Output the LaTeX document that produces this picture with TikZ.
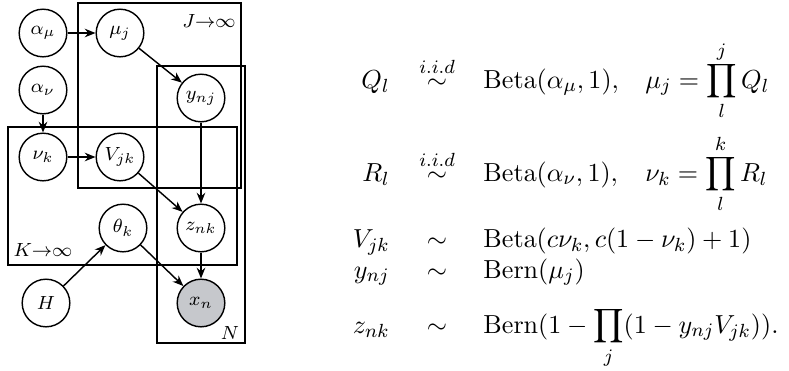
\documentclass[tikz,border=0pt]{standalone}
\usetikzlibrary{arrows.meta}
\definecolor{xgray}{RGB}{198,200,204}
\begin{document}
\begin{tikzpicture}[x=0.42pt,y=-0.42pt,
  var/.style={circle,draw,line width=0.6pt,minimum size=20pt,inner sep=0pt,font=\footnotesize},
  obs/.style={var,fill=xgray},
  plate/.style={draw,line width=0.6pt},
  edge/.style={-{Stealth[length=4.5pt,width=3.6pt]},line width=0.6pt},
  eq/.style={inner sep=0pt,font=\fontsize{11}{13.5}\selectfont},
  platelabel/.style={inner sep=0pt,font=\footnotesize}]
\useasboundingbox (0,0) rectangle (789,370);
% plates
\draw[plate] (78,3) rectangle (241,188);
\draw[plate] (157,66) rectangle (245,343);
\draw[plate] (8,127) rectangle (237,265);
\node[platelabel] (lJ) at (209,21) {$J{\rightarrow}\infty$};
\node[platelabel] (lK) at (43,250) {$K{\rightarrow}\infty$};
\node[platelabel] (lN) at (230,333) {$N$};
% nodes
\node[var] (am) at (43,33) {$\alpha_\mu$};
\node[var] (mu) at (120,33) {$\mu_j$};
\node[var] (an) at (43,90) {$\alpha_\nu$};
\node[var] (y) at (201,98) {$y_{nj}$};
\node[var] (nu) at (43,157) {$\nu_k$};
\node[var] (V) at (120,157) {$V_{jk}$};
\node[var] (th) at (123,228) {$\theta_k$};
\node[var] (z) at (201,228) {$z_{nk}$};
\node[var] (H) at (46,303) {$H$};
\node[obs] (x) at (201,303) {$x_n$};
% edges
\draw[edge] (am) -- (mu);
\draw[edge] (mu) -- (y);
\draw[edge] (an) -- (nu);
\draw[edge] (nu) -- (V);
\draw[edge] (V) -- (z);
\draw[edge] (y) -- (z);
\draw[edge] (z) -- (x);
\draw[edge] (th) -- (x);
\draw[edge] (H) -- (th);
% equations
\node[eq,anchor=base east] (e1l) at (390,88) {$Q_l$};
\node[eq,anchor=base] (e1c) at (437,88) {$\stackrel{i.i.d}{\sim}$};
\node[eq,anchor=base west] (e1r) at (483,88) {$\mathrm{Beta}(\alpha_\mu,1),$};
\node[eq,anchor=base west] (e1s) at (645,88) {$\displaystyle\mu_j=\prod_l^j Q_l$};
\node[eq,anchor=base east] (e2l) at (390,181) {$R_l$};
\node[eq,anchor=base] (e2c) at (437,181) {$\stackrel{i.i.d}{\sim}$};
\node[eq,anchor=base west] (e2r) at (483,181) {$\mathrm{Beta}(\alpha_\nu,1),$};
\node[eq,anchor=base west] (e2s) at (645,181) {$\displaystyle\nu_k=\prod_l^k R_l$};
\node[eq,anchor=base east] (e3l) at (390,247) {$V_{jk}$};
\node[eq,anchor=base] (e3c) at (437,247) {$\sim$};
\node[eq,anchor=base west] (e3r) at (483,247) {$\mathrm{Beta}(c\nu_k,c(1-\nu_k)+1)$};
\node[eq,anchor=base east] (e4l) at (390,278) {$y_{nj}$};
\node[eq,anchor=base] (e4c) at (437,278) {$\sim$};
\node[eq,anchor=base west] (e4r) at (483,278) {$\mathrm{Bern}(\mu_j)$};
\node[eq,anchor=base east] (e5l) at (390,333) {$z_{nk}$};
\node[eq,anchor=base] (e5c) at (437,333) {$\sim$};
\node[eq,anchor=base west] (e5r) at (483,333) {$\displaystyle\mathrm{Bern}(1-\prod_j(1-y_{nj}V_{jk})).$};
\end{tikzpicture}
\end{document}
